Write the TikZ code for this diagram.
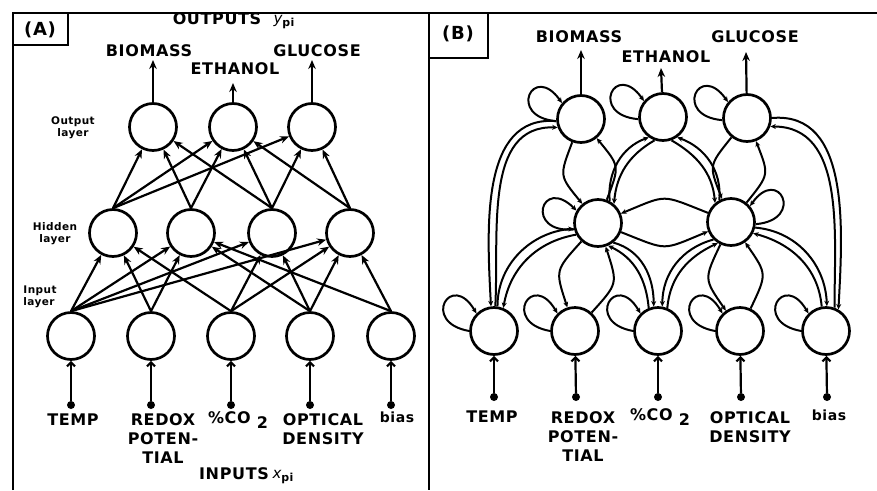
\documentclass[tikz,border=0pt]{standalone}
\usepackage{fontspec}
\setmainfont{DejaVu Sans}[LetterSpace=4]
\usetikzlibrary{arrows.meta}
% self-connection: node, start anchor, start direction, end anchor, end direction
\newcommand\selfarc[5]{\draw[barr] (#1.#2) .. controls +(#3:50) and +(#5:50) .. (#1.#4);}
\begin{document}
\begin{tikzpicture}[x=1pt,y=1pt,
  neuron/.style={circle,draw,line width=2.7pt,minimum size=47pt,inner sep=0pt},
  pin/.style={circle,fill,inner sep=0pt,minimum size=8pt},
  lbl/.style={inner sep=0pt,align=center,font=\fontsize{16}{19}\selectfont\bfseries},
  small/.style={inner sep=0pt,align=center,font=\fontsize{10.5}{17}\selectfont\bfseries},
  arr/.style={line width=2.2pt,-{Stealth[length=9pt,width=7.5pt]}},
  inarr/.style={line width=2.2pt,-{Straight Barb[length=4pt,width=8pt]}},
  barr/.style={line width=2pt,-{Stealth[length=5.5pt,width=5pt]}},
  lens/.style={barr,bend right=30,looseness=1.5}]
\useasboundingbox (0,0) rectangle (877,-490);

% frame and panel tags
\draw[line width=2.2pt] (13,-490) -- (13,-13) -- (877,-13);
\draw[line width=2.2pt] (429,-13) -- (429,-490);
\draw[line width=2pt] (13,-45) -| (68,-13);
\draw[line width=2pt] (429,-58) -| (488,-13);
\node[inner sep=0pt,font=\fontsize{18}{20}\selectfont\bfseries] (tagA) at (40,-30) {(A)};
\node[inner sep=0pt,font=\fontsize{18}{20}\selectfont\bfseries] (tagB) at (458,-34) {(B)};

% ---------------- (A) layered network ----------------
\node[neuron] (ao1) at (153,-127) {};
\node[neuron] (ao2) at (233,-127) {};
\node[neuron] (ao3) at (312,-127) {};
\node[neuron] (ah1) at (113,-233) {};
\node[neuron] (ah2) at (191,-233) {};
\node[neuron] (ah3) at (272,-233) {};
\node[neuron] (ah4) at (350,-233) {};
\node[neuron] (ai1) at (71,-336) {};
\node[neuron] (ai2) at (151,-336) {};
\node[neuron] (ai3) at (231,-336) {};
\node[neuron] (ai4) at (310,-336) {};
\node[neuron] (ai5) at (391,-336) {};

\node[lbl] (outA) at (217,-19) {OUTPUTS};
\node[inner sep=0pt] (ypi) at (284,-22) {{\fontsize{15}{15}\selectfont\itshape y}\raisebox{-3pt}{\fontsize{11}{11}\selectfont\bfseries pi}};
\node[lbl] (bioA) at (149,-51) {BIOMASS};
\node[lbl] (gluA) at (317,-51) {GLUCOSE};
\node[lbl] (ethA) at (235,-69) {ETHANOL};
\coordinate (ta1) at (153,-60);
\coordinate (ta2) at (233,-83);
\coordinate (ta3) at (312,-60);
\draw[arr] (ao1) -- (ta1);
\draw[arr] (ao2) -- (ta2);
\draw[arr] (ao3) -- (ta3);

\node[small] (lout) at (73,-128) {Output\\[-5pt]layer};
\node[small] (lhid) at (55,-234) {Hidden\\[-5pt]layer};
\node[small,align=left] (linp) at (40,-297) {Input\\[-5pt]layer};

% hidden -> output
\foreach \s/\t in {ah1/ao1,ah1/ao2,ah1/ao3,ah2/ao1,ah2/ao2,ah3/ao1,ah3/ao2,ah3/ao3,ah4/ao2,ah4/ao3}
  \draw[arr] (\s.north) -- (\t);
% input -> hidden
\foreach \s/\t in {ai1/ah1,ai1/ah2,ai1/ah3,ai1/ah4,ai2/ah1,ai2/ah2,ai3/ah1,ai3/ah3,ai3/ah4,ai4/ah2,ai4/ah3,ai4/ah4,ai5/ah2,ai5/ah4}
  \draw[arr] (\s.north) -- (\t);

% external inputs
\foreach \n/\x in {1/71,2/151,3/231,4/310,5/391}{
  \node[pin] (ad\n) at (\x,-405) {};
  \draw[inarr] (ad\n) -- (ai\n);
}
\node[lbl] (tempA) at (73,-420) {TEMP};
\node[lbl] (redA) at (163,-439) {REDOX\\POTEN-\\TIAL};
\node[lbl] (co2A) at (238,-420) {\%CO\raisebox{-5pt}{ 2}};
\node[lbl] (optA) at (323,-429) {OPTICAL\\DENSITY};
\node[lbl,font=\fontsize{14}{16}\selectfont\bfseries] (biasA) at (397,-417) {bias};
\node[lbl] (inA) at (234,-474) {INPUTS};
\node[inner sep=0pt] (xpi) at (283,-477) {{\fontsize{15}{15}\selectfont\itshape x}\raisebox{-3pt}{\fontsize{11}{11}\selectfont\bfseries pi}};

% ---------------- (B) recurrent network ----------------
\node[neuron] (bo1) at (581,-119) {};
\node[neuron] (bo2) at (663,-117) {};
\node[neuron] (bo3) at (747,-118) {};
\node[neuron] (bh1) at (598,-223) {};
\node[neuron] (bh2) at (731,-222) {};
\node[neuron] (bi1) at (494,-331) {};
\node[neuron] (bi2) at (575,-331) {};
\node[neuron] (bi3) at (658,-331) {};
\node[neuron] (bi4) at (740,-331) {};
\node[neuron] (bi5) at (826,-331) {};

\node[lbl] (bioB) at (579,-37) {BIOMASS};
\node[lbl] (ethB) at (666,-57) {ETHANOL};
\node[lbl] (gluB) at (755,-37) {GLUCOSE};
\coordinate (tb1) at (581,-50);
\coordinate (tb2) at (661,-68);
\coordinate (tb3) at (746,-52);
\draw[arr] (bo1) -- (tb1);
\draw[arr] (bo2) -- (tb2);
\draw[arr] (bo3) -- (tb3);

% self connections
\selfarc{bo1}{185}{175}{140}{125}
\selfarc{bo2}{185}{175}{140}{125}
\selfarc{bo3}{185}{175}{140}{125}
\selfarc{bh1}{195}{185}{150}{135}
\selfarc{bh2}{355}{5}{40}{55}
\foreach \n in {1,...,5}{\selfarc{bi\n}{180}{170}{135}{120}}

% two-way links drawn as lenses
\draw[lens] (bo1) to (bh1);  \draw[lens] (bh1) to (bo1);
\draw[lens] (bo3) to (bh2);  \draw[lens] (bh2) to (bo3);
\draw[lens] (bh1) to (bi2);  \draw[lens] (bi2) to (bh1);
\draw[lens] (bh2) to (bi4);  \draw[lens] (bi4) to (bh2);
\draw[barr] (bh1) to[bend right=22,looseness=1.5] (bh2);
\draw[barr] (bh2) to[bend right=22,looseness=1.5] (bh1);

% two-way links drawn as parallel arcs
\draw[barr] (bo1.185) to[out=175,in=93] (bi1.97);
\draw[barr] (bi1.87) to[out=87,in=178] (bo1.200);
\draw[barr] (bo3.0) to[out=5,in=87] (bi5.60);
\draw[barr] (bi5.70) to[out=90,in=0] (bo3.340);
\draw[barr] (bi1.82) to[out=90,in=185] (bh1.193);
\draw[barr] (bh1.208) to[out=190,in=80] (bi1.68);
\draw[barr] (bh1.308) to[out=345,in=90] (bi3.100);
\draw[barr] (bi3.112) to[out=95,in=335] (bh1.294);
\draw[barr] (bh2.225) to[out=195,in=90] (bi3.80);
\draw[barr] (bi3.68) to[out=85,in=205] (bh2.238);
\draw[barr] (bh2.347) to[out=355,in=92] (bi5.88);
\draw[barr] (bi5.100) to[out=95,in=345] (bh2.333);
\draw[barr] (bh1.62) to[out=95,in=200] (bo2.235);
\draw[barr] (bo2.250) to[out=210,in=85] (bh1.50);
\draw[barr] (bh2.118) to[out=85,in=340] (bo2.305);
\draw[barr] (bo2.290) to[out=330,in=95] (bh2.130);

% external inputs
\foreach \n/\x in {1/494,2/576,3/658,4/741,5/827}{
  \node[pin] (bd\n) at (\x,-397) {};
  \draw[inarr] (bd\n) -- (bi\n);
}
\node[lbl] (tempB) at (492,-417) {TEMP};
\node[lbl] (redB) at (583,-437) {REDOX\\POTEN-\\TIAL};
\node[lbl] (co2B) at (660,-417) {\%CO\raisebox{-5pt}{ 2}};
\node[lbl] (optB) at (750,-427) {OPTICAL\\DENSITY};
\node[lbl,font=\fontsize{14}{16}\selectfont\bfseries] (biasB) at (829,-415) {bias};
\end{tikzpicture}
\end{document}
